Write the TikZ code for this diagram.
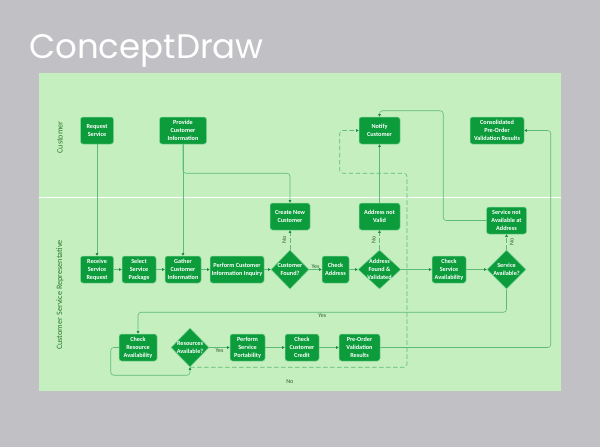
\documentclass[tikz,border=0pt]{standalone}
\usepackage{fontspec}
\setmainfont{Carlito}
\newfontfamily\titlefont{Poppins}
\usetikzlibrary{shapes.geometric}
\usetikzlibrary{arrows.meta}
\usetikzlibrary{positioning}

\definecolor{bggray}{HTML}{C1C1C5}
\definecolor{panel}{HTML}{C6EFBF}
\definecolor{nodegreen}{HTML}{0D9C3B}
\definecolor{nodeedge}{HTML}{7FD69A}
\definecolor{linegreen}{HTML}{5DBB78}
\definecolor{arrowgreen}{HTML}{1F8A45}
\definecolor{lblgreen}{HTML}{2F5F2F}
\definecolor{lanegreen}{HTML}{2A7A30}

\tikzset{
  box/.style={rectangle, rounded corners=2.5pt, fill=nodegreen, draw=nodeedge,
    line width=0.5pt, text=white, align=center, inner sep=1pt,
    font=\bfseries\fontsize{6.2}{8}\selectfont, minimum height=27pt, minimum width=#1},
  box/.default=34pt,
  dec/.style={diamond, fill=nodegreen, draw=nodeedge, line width=0.5pt,
    inner sep=0pt, minimum width=#1, minimum height=39pt},
  dec/.default=39pt,
  dtext/.style={text=white, align=center, font=\bfseries\fontsize{6.2}{8}\selectfont},
  flow/.style={draw=linegreen, line width=0.6pt, rounded corners=3pt,
    -{Triangle[length=2.6pt,width=2.6pt,color=arrowgreen]}},
  noflow/.style={flow, dash pattern=on 4.5pt off 2.5pt},
  lbl/.style={text=lblgreen, font=\fontsize{6}{6.5}\selectfont, inner sep=1pt},
  lane/.style={text=lanegreen, font=\fontsize{8.2}{9}\selectfont, rotate=90}
}

\begin{document}
\begin{tikzpicture}[x=1pt,y=-1pt]
    \fill[bggray] (0,0) rectangle (600,447);
    \fill[panel] (39,73) rectangle (561,391);
    \draw[white, line width=1pt] (39,197) -- (561,197);
    \node[anchor=base west, inner sep=0pt, text=white,
      font=\titlefont\fontsize{34}{34}\selectfont] (title) at (29,58) {ConceptDraw};

    \node[lane] (lcust) at (60,137.5) {Customer};
    \node[lane] (lcsr) at (60,295) {Customer Service Representative};

    % customer lane
    \node[box=33pt] (rs) at (97,130.5) {Request\\Service};
    \node[box=47pt] (pci) at (183,130.5) {Provide\\Customer\\Information};
    \node[box=41pt] (nc) at (379.5,130.5) {Notify\\Customer};
    \node[box=54pt] (cpvr) at (497,130.5) {Consolidated\\Pre-Order\\Validation Results};

    % service representative lane
    \node[box=40pt] (cnc) at (290,216.5) {Create New\\Customer};
    \node[box=41pt] (anv) at (379.5,216.5) {Address not\\Valid};
    \node[box=40pt] (sna) at (506.5,220.5) {Service not\\Available at\\Address};

    \node[box=33pt] (rsr) at (97,269.5) {Receive\\Service\\Request};
    \node[box=34pt] (ssp) at (139,269.5) {Select\\Service\\Package};
    \node[box=36pt] (gci) at (183,269.5) {Gather\\Customer\\Information};
    \node[box=54pt] (pcii) at (237,269.5) {Perform Customer\\Information Inquiry};
    \node[dec=38pt, label={[dtext]center:Customer\\Found?}] (cf) at (290,269.5) {};
    \node[box=27pt] (ca) at (335.5,269.5) {Check\\Address};
    \node[dec=43pt, label={[dtext]center:Address\\Found \&\\Validated}] (afv) at (379.5,269.5) {};
    \node[box=34pt] (csa) at (449,269.5) {Check\\Service\\Availability};
    \node[dec=39pt, label={[dtext]center:Service\\Available?}] (sa) at (506.5,269.5) {};

    \node[box=38pt] (cra) at (138,347.5) {Check\\Resource\\Availability};
    \node[dec=38pt, label={[dtext]center:Resources\\Available?}] (rav) at (190,347.5) {};
    \node[box=35pt] (psp) at (247.5,347.5) {Perform\\Service\\Portability};
    \node[box=34pt] (ccc) at (302,347.5) {Check\\Customer\\Credit};
    \node[box=41pt] (pvr) at (359.5,347.5) {Pre-Order\\Validation\\Results};

    \draw[flow] (rs) -- (rsr);
    \draw[flow] (pci) -- (gci);
    \draw[flow] (pci.south) -- ++(0,29) -| (cnc.north);
    \draw[flow] (rsr) -- (ssp);
    \draw[flow] (ssp) -- (gci);
    \draw[flow] (gci) -- (pcii);
    \draw[flow] (pcii) -- (cf);
    \draw[noflow] (cf) -- node[lbl, xshift=-2.5pt, rotate=90, anchor=south] {No} (cnc);
    \draw[flow] (cf) -- node[lbl, above] {Yes} (ca);
    \draw[flow] (ca) -- (afv);
    \draw[noflow] (afv) -- node[lbl, xshift=-2.5pt, rotate=90, anchor=south] {No} (anv);
    \draw[flow] (anv) -- (nc);
    \draw[flow] (afv) -- (csa);
    \draw[flow] (csa) -- (sa);
    \draw[noflow] (sa) -- node[lbl, xshift=2pt, rotate=90, anchor=north] {No} (sna);
    \draw[flow] (sna.west) -- ++(-43,0) |- ([yshift=6pt]nc.north) -- (nc.north);
    \draw[flow] (sa.south) -- ++(0,23) -| node[lbl, pos=0.25, below] {Yes} (cra.north);
    \draw[flow] (cra.west) -- ++(-8,0) |- ([yshift=-8pt]rav.south) -- (rav.south);
    \draw[noflow] (rav.south) -- node[lbl, pos=0.46, below=11pt] {No} ++(217,0)
      -- ++(0,-194) -| ([xshift=-19pt]nc.west) -- (nc.west);
    \draw[flow] (rav) -- node[lbl, below] {Yes} (psp);
    \draw[flow] (psp) -- (ccc);
    \draw[flow] (ccc) -- (pvr);
    \draw[flow] (pvr.east) -- ++(170.5,0) |- (cpvr.east);
\end{tikzpicture}
\end{document}
